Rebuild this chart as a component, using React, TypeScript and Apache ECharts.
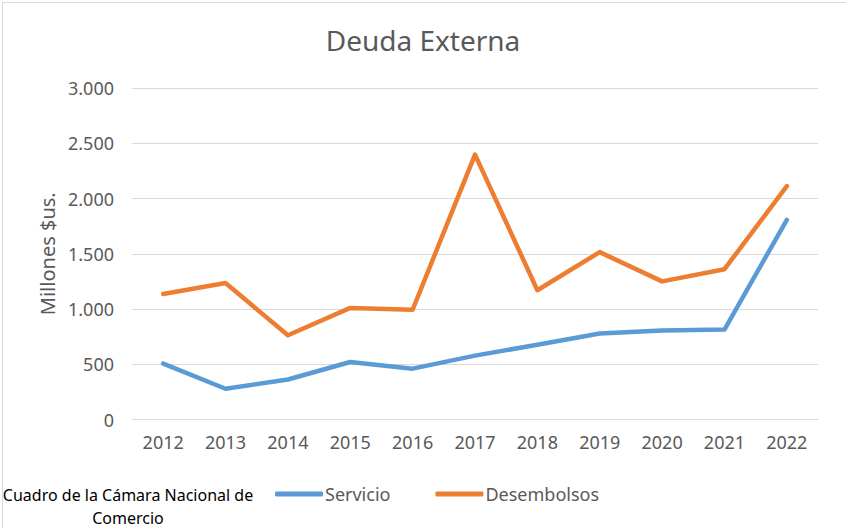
import React, { useEffect, useRef } from "react";
import * as echarts from "echarts";

const years = ["2012", "2013", "2014", "2015", "2016", "2017", "2018", "2019", "2020", "2021", "2022"];
const servicio = [505, 278, 362, 520, 460, 578, 676, 778, 806, 814, 1806];
const desembolsos = [1136, 1236, 762, 1010, 993, 2397, 1170, 1515, 1250, 1360, 2112];
const seriesNames = ["Servicio", "Desembolsos"];
const colors = ["#5B9BD5", "#ED7D31"];
const titleText = "Deuda Externa";
const yAxisName = "Millones $us.";
const captionText = "Cuadro de la Cámara Nacional de\nComercio";

const FONT = "'Noto Sans', sans-serif";

export default function App() {
  const ref = useRef<HTMLDivElement>(null);
  useEffect(() => {
    document.body.style.margin = "0";
    const chart = echarts.init(ref.current!, undefined, { renderer: "svg" });
    chart.setOption({
      animation: false,
      backgroundColor: "#ffffff",
      textStyle: { fontFamily: FONT },
      title: {
        text: titleText,
        left: "center",
        top: 21,
        textStyle: { fontFamily: FONT, fontSize: 28, fontWeight: "normal", color: "#595959" },
      },
      grid: { left: 132, right: 28, top: 88, bottom: 108.5, containLabel: false },
      legend: {
        data: seriesNames,
        left: 270,
        top: 480,
        itemWidth: 48,
        itemHeight: 5,
        itemGap: 45,
        icon: "roundRect",
        textStyle: { fontFamily: FONT, fontSize: 18, color: "#595959", padding: [0, 0, 0, -3] },
      },
      xAxis: {
        type: "category",
        data: years,
        boundaryGap: true,
        axisLine: { show: true, lineStyle: { color: "#d9d9d9", width: 1 } },
        axisTick: { show: false },
        axisLabel: { fontFamily: FONT, fontSize: 18, color: "#595959", margin: 13 },
      },
      yAxis: {
        type: "value",
        min: 0,
        max: 3000,
        interval: 500,
        name: yAxisName,
        nameLocation: "middle",
        nameGap: 75,
        nameTextStyle: { fontFamily: FONT, fontSize: 20, color: "#595959" },
        axisLine: { show: false },
        axisTick: { show: false },
        splitLine: { lineStyle: { color: "#d9d9d9", width: 1 } },
        axisLabel: {
          fontFamily: FONT,
          fontSize: 18,
          color: "#595959",
          margin: 18,
          formatter: (v: number) => v.toString().replace(/\B(?=(\d{3})+(?!\d))/g, "."),
        },
      },
      series: [
        {
          name: seriesNames[0],
          type: "line",
          data: servicio,
          showSymbol: false,
          symbol: "none",
          lineStyle: { color: colors[0], width: 4.5, cap: "round", join: "round" },
          itemStyle: { color: colors[0] },
        },
        {
          name: seriesNames[1],
          type: "line",
          data: desembolsos,
          showSymbol: false,
          symbol: "none",
          lineStyle: { color: colors[1], width: 4.5, cap: "round", join: "round" },
          itemStyle: { color: colors[1] },
        },
      ],
      graphic: [
        {
          type: "rect",
          left: 0,
          top: 0,
          shape: { x: 0.5, y: 0.5, width: 845, height: 527 },
          style: { fill: "none", stroke: "#d9d9d9", lineWidth: 1 },
          silent: true,
        },
        {
          type: "text",
          x: 128,
          y: 483,
          style: {
            text: captionText,
            fontFamily: FONT,
            fontSize: 16,
            fill: "#000000",
            align: "center",
            lineHeight: 23,
          },
        },
      ],
    });
    return () => chart.dispose();
  }, []);
  return <div ref={ref} style={{ width: 846, height: 528 }} />;
}
